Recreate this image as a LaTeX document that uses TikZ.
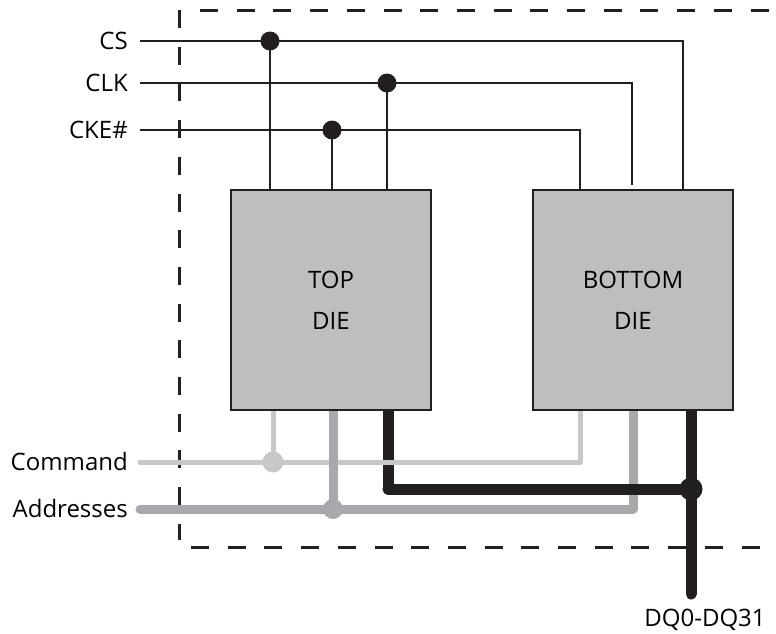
\documentclass[tikz,border=0pt]{standalone}
\usepackage{fontspec}
\setmainfont{Open Sans}
\usetikzlibrary{calc}

\definecolor{inkBlack}{HTML}{231F20}
\definecolor{dieGray}{HTML}{BCBEC0}
\definecolor{cmdGray}{HTML}{C7C8CA}
\definecolor{addrGray}{HTML}{A7A9AC}

\pgfdeclarelayer{wires}
\pgfsetlayers{wires,main}

\begin{document}
\begin{tikzpicture}[x=1pt, y=-1pt,
    dieBox/.style={draw=inkBlack, line width=1.2pt, fill=dieGray, minimum width=200pt,
        minimum height=220pt, align=center, font=\fontsize{24}{41}\selectfont},
    pinLabel/.style={anchor=east, inner xsep=12pt, inner ysep=0pt, text height=17pt,
        text depth=0pt, font=\fontsize{24}{28}\selectfont},
    ctrlWire/.style={draw=inkBlack, line width=1.3pt},
    ctrlDot/.style={circle, fill=inkBlack, inner sep=0pt, minimum size=19pt},
    cmdWire/.style={draw=cmdGray, line width=5pt, line cap=round, line join=round},
    addrWire/.style={draw=addrGray, line width=9pt, line cap=round, line join=round},
    dataWire/.style={draw=inkBlack, line width=11pt, line cap=round, line join=round},
    packageEdge/.style={draw=inkBlack, line width=3pt, dash pattern=on 18pt off 18.7pt}]

    \useasboundingbox (0,0) rectangle (776,634);

    % the two dies
    \node[dieBox] (topDie) at (331,300) {TOP\\DIE};
    \node[dieBox] (bottomDie) at (633,300) {BOTTOM\\DIE};

    % pin names
    \node[pinLabel] (csLabel) at (140,41) {CS};
    \node[pinLabel] (clkLabel) at (140,83) {CLK};
    \node[pinLabel] (ckeLabel) at (140,130) {CKE\#};
    \node[pinLabel] (cmdLabel) at (140,462) {Command};
    \node[pinLabel] (addrLabel) at (140,509) {Addresses};
    \node[anchor=north, inner sep=0pt, text height=17pt, text depth=0pt,
        font=\fontsize{24}{28}\selectfont] (dqLabel) at (705,609) {DQ0-DQ31};

    % junctions
    \node[ctrlDot] (csDot) at (270,41) {};
    \node[ctrlDot] (clkDot) at (387,83) {};
    \node[ctrlDot] (ckeDot) at (332,130) {};
    \node[circle, fill=cmdGray, inner sep=0pt, minimum size=21pt] (cmdDot) at (273,462) {};
    \node[circle, fill=addrGray, inner sep=0pt, minimum size=20pt] (addrDot) at (333,509) {};
    \node[circle, fill=inkBlack, inner sep=0pt, minimum size=23pt] (dqDot) at (691,489) {};
    \coordinate (dataBend) at (388,489);

    \begin{pgfonlayer}{wires}
        % package outline
        \draw[packageEdge] (200,11) -- (790,11);
        \draw[packageEdge] (179,10) -- (179,540);
        \draw[packageEdge] (191,547) -- (790,547);

        % control signals
        \draw[ctrlWire] (csLabel.east) -| ([xshift=50pt]bottomDie.north);
        \draw[ctrlWire] (csDot.center) -- (csDot |- topDie.north);
        \draw[ctrlWire] (clkLabel.east) -| ([xshift=-1pt, yshift=4pt]bottomDie.north);
        \draw[ctrlWire] (clkDot.center) -- (clkDot |- topDie.north);
        \draw[ctrlWire] (ckeLabel.east) -| ([xshift=-53pt]bottomDie.north);
        \draw[ctrlWire] (ckeDot.center) -- (ckeDot |- topDie.north);

        % command, addresses, data
        \draw[dataWire] (dataBend |- topDie.south) -- (dataBend);
        \draw[cmdWire] (cmdLabel.east) -| ([xshift=-53pt]bottomDie.south);
        \draw[cmdWire] (cmdDot.center) -- (cmdDot |- topDie.south);
        \draw[addrWire] (addrLabel.east) -| (bottomDie.south);
        \draw[addrWire] (addrDot.center) -- (addrDot |- topDie.south);
        \draw[dataWire] (dataBend) -- (dqDot.center);
        \draw[dataWire, shorten >=15pt] (dqDot |- bottomDie.south) -- (dqDot |- dqLabel.north);
    \end{pgfonlayer}
\end{tikzpicture}
\end{document}
